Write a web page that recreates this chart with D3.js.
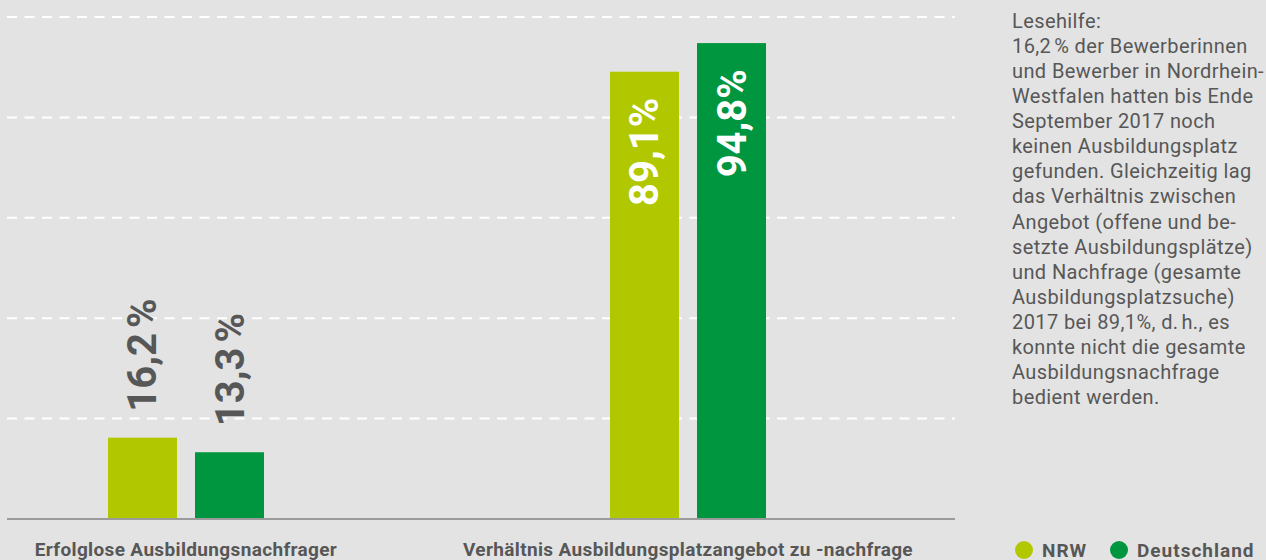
<!DOCTYPE html>
<html><head><meta charset="utf-8">
<script src="https://cdn.jsdelivr.net/npm/d3@7/dist/d3.min.js"></script>
<style>
html,body{margin:0;padding:0;background:#e3e3e3;}
svg{display:block;}
text{font-family:Roboto,"Noto Sans",sans-serif;}
</style></head>
<body>
<svg id="chart" width="1266" height="560"></svg>
<script>
// ---- data ----
const categories = ["Erfolglose Ausbildungsnachfrager", "Verhältnis Ausbildungsplatzangebot zu -nachfrage"];
const seriesNames = ["NRW", "Deutschland"];
const nrwValues = [16.2, 89.1];
const deValues = [13.3, 94.8];
const nrwLabels = ["16,2\u202F%", "89,1%"];
const deLabels = ["13,3\u202F%", "94,8%"];
const yTicks = [20, 40, 60, 80, 100];
const noteLines = [
  "Lesehilfe:",
  "16,2\u202F% der Bewerberinnen",
  "und Bewerber in Nordrhein-",
  "Westfalen hatten bis Ende",
  "September 2017 noch",
  "keinen Ausbildungsplatz",
  "gefunden. Gleichzeitig lag",
  "das Verhältnis zwischen",
  "Angebot (offene und be-",
  "setzte Ausbildungsplätze)",
  "und Nachfrage (gesamte",
  "Ausbildungsplatzsuche)",
  "2017 bei 89,1%, d.\u202Fh., es",
  "konnte nicht die gesamte",
  "Ausbildungsnachfrage",
  "bedient werden."
];

// ---- build ----
const colors = {"NRW": "#b1c800", "Deutschland": "#00963f"};
const textGray = "#575757";
const rows = categories.map((c, i) => ({
  cat: c,
  bars: [
    {s: seriesNames[0], v: nrwValues[i], label: nrwLabels[i]},
    {s: seriesNames[1], v: deValues[i], label: deLabels[i]}
  ]
}));

const svg = d3.select("#chart");
const left = 7, right = 955, baseY = 519, topY = 17;

const y = d3.scaleLinear().domain([0, 100]).range([baseY, topY]);
const x0 = d3.scalePoint().domain(categories).range([186, 688]);
const x1 = d3.scaleBand().domain(seriesNames).range([-78, 78]).paddingInner(0.207).paddingOuter(0);

// gridlines
svg.append("g").selectAll("line").data(yTicks).join("line")
  .attr("x1", left).attr("x2", right)
  .attr("y1", d => y(d)).attr("y2", d => y(d))
  .attr("stroke", "#ffffff").attr("stroke-width", 2)
  .attr("stroke-dasharray", "10,7.5");

// bars
const groups = svg.append("g").selectAll("g").data(rows).join("g")
  .attr("transform", d => `translate(${x0(d.cat)},0)`);

groups.selectAll("rect").data(d => d.bars).join("rect")
  .attr("x", d => x1(d.s))
  .attr("width", x1.bandwidth())
  .attr("y", d => y(d.v))
  .attr("height", d => y(0) - y(d.v))
  .attr("fill", d => colors[d.s]);

// value labels
groups.selectAll("text.val").data(d => d.bars).join("text")
  .attr("class", "val")
  .attr("transform", d => {
    const cx = x1(d.s) + x1.bandwidth() / 2;
    const inside = d.v > 50;
    const yy = inside ? y(d.v) + 26 : y(d.v) - 26;
    return `translate(${cx},${yy}) rotate(-90)`;
  })
  .attr("text-anchor", d => d.v > 50 ? "end" : "start")
  .attr("dy", "0.35em")
  .attr("font-size", 40)
  .attr("font-weight", 700)
  .attr("fill", d => d.v > 50 ? "#ffffff" : textGray)
  .text(d => d.label);

// baseline
svg.append("line")
  .attr("x1", left).attr("x2", right)
  .attr("y1", y(0)).attr("y2", y(0))
  .attr("stroke", "#9b9b9b").attr("stroke-width", 2);

// category labels
svg.append("g").selectAll("text").data(categories).join("text")
  .attr("x", d => x0(d)).attr("y", 556)
  .attr("text-anchor", "middle")
  .attr("font-size", 19).attr("font-weight", 700)
  .attr("letter-spacing", 0.35)
  .attr("fill", textGray)
  .text(d => d);

// legend
const legendX = [1024, 1119];
const lg = svg.append("g").selectAll("g").data(seriesNames).join("g")
  .attr("transform", (d, i) => `translate(${legendX[i]},550)`);
lg.append("circle").attr("r", 9).attr("fill", d => colors[d]);
lg.append("text").attr("x", 18).attr("y", 6.5)
  .attr("font-size", 19).attr("font-weight", 700)
  .attr("letter-spacing", 1).attr("fill", textGray)
  .text(d => d);

// reading aid
svg.append("text")
  .attr("x", 1012).attr("y", 27.7)
  .attr("font-size", 20).attr("letter-spacing", 0.4).attr("fill", textGray)
  .selectAll("tspan").data(noteLines).join("tspan")
  .attr("x", 1012).attr("dy", (d, i) => i === 0 ? 0 : 25.1)
  .text(d => d);
</script>
</body></html>
